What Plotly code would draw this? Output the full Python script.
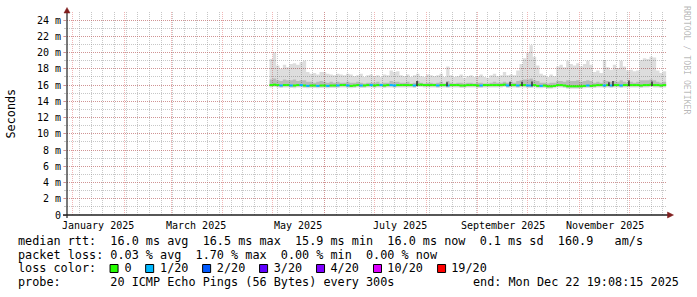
import plotly.graph_objects as go
import pandas as pd

# ---------------- data ----------------
x_start = "2024-12-28 12:00"
x_end = "2025-12-23 12:00"
step_start = "2025-04-29"
step_days = 2

ping_max = [
    19.2, 20.0, 18.4, 18.0, 18.5, 18.2, 18.6, 18.7, 18.5, 18.8,
    19.0, 17.6, 17.4, 17.5, 17.3, 17.6, 17.6, 17.4, 17.3, 17.2,
    17.4, 17.3, 17.2, 17.4, 17.3, 17.1, 17.2, 17.4, 17.0, 17.2,
    17.3, 17.1, 17.2, 17.0, 17.3, 17.2, 17.8, 17.6, 17.7, 17.2,
    17.1, 17.3, 17.0, 17.2, 17.4, 17.1, 17.0, 17.3, 17.2, 17.1,
    17.2, 17.4, 17.0, 18.3, 17.2, 17.0, 17.1, 17.3, 16.9, 17.1,
    17.2, 17.0, 17.1, 17.3, 17.0, 16.9, 17.2, 17.4, 17.1, 17.2,
    17.6, 17.2, 17.3, 17.2, 17.8, 18.6, 19.3, 20.0, 20.9, 19.5,
    18.4, 17.4, 17.2, 17.0, 17.3, 17.1, 18.3, 18.5, 18.2, 19.0,
    18.6, 18.4, 18.7, 18.3, 18.6, 19.0, 18.5, 17.6, 17.8, 17.5,
    19.1, 18.2, 17.9, 18.5, 18.1, 19.0, 18.3, 17.8, 17.9, 17.7,
    17.8, 19.1, 19.3, 19.2, 19.5, 19.4, 17.8, 17.5, 17.7,
]
ping_q3 = [
    16.7, 16.8, 16.6, 16.5, 16.7, 16.6, 16.6, 16.7, 16.5, 16.6,
    16.6, 16.4, 16.4, 16.3, 16.4, 16.5, 16.4, 16.3, 16.4, 16.3,
    16.4, 16.3, 16.3, 16.4, 16.3, 16.3, 16.4, 16.3, 16.2, 16.3,
    16.3, 16.3, 16.4, 16.2, 16.3, 16.3, 16.5, 16.4, 16.4, 16.3,
    16.3, 16.4, 16.2, 16.3, 16.5, 16.3, 16.2, 16.3, 16.3, 16.2,
    16.3, 16.4, 16.2, 16.5, 16.3, 16.2, 16.3, 16.3, 16.2, 16.3,
    16.3, 16.2, 16.3, 16.3, 16.2, 16.2, 16.3, 16.4, 16.3, 16.3,
    16.4, 16.3, 16.4, 16.3, 16.5, 16.6, 16.7, 16.7, 16.8, 16.6,
    16.5, 16.3, 16.3, 16.2, 16.3, 16.3, 16.5, 16.5, 16.4, 16.6,
    16.5, 16.5, 16.6, 16.4, 16.5, 16.6, 16.5, 16.3, 16.4, 16.3,
    16.6, 16.5, 16.4, 16.5, 16.4, 16.6, 16.4, 16.3, 16.4, 16.3,
    16.4, 16.6, 16.6, 16.6, 16.7, 16.6, 16.4, 16.3, 16.4,
]
median_rtt = [
    16.0, 16.05, 16.0, 15.95, 16.0, 16.0, 15.95, 15.95, 16.0, 16.0,
    15.95, 15.9, 15.95, 15.95, 15.9, 15.95, 15.95, 15.9, 15.95, 15.95,
    15.95, 16.0, 16.0, 15.95, 15.9, 15.95, 16.0, 15.95, 15.95, 16.0,
    16.0, 15.95, 16.0, 16.0, 15.95, 16.0, 16.0, 15.95, 16.0, 16.0,
    16.0, 16.0, 16.0, 15.95, 16.05, 16.05, 16.0, 16.0, 16.0, 16.0,
    15.95, 16.0, 16.0, 15.95, 16.0, 16.0, 16.0, 15.95, 15.95, 16.0,
    16.0, 16.0, 15.95, 15.95, 16.0, 16.0, 16.0, 16.0, 16.0, 16.0,
    16.05, 15.95, 16.0, 16.0, 15.95, 16.0, 16.0, 15.95, 15.95, 16.0,
    15.9, 15.9, 15.95, 15.85, 15.85, 15.9, 16.0, 16.0, 15.95, 15.85,
    15.85, 15.85, 15.85, 15.85, 15.9, 15.95, 15.9, 15.95, 16.0, 16.0,
    15.95, 16.0, 15.95, 16.0, 16.0, 15.95, 16.0, 16.0, 16.0, 16.0,
    16.0, 15.95, 16.0, 16.0, 16.05, 16.0, 16.0, 15.95, 16.0,
]
ping_q1 = [
    15.85, 15.9, 15.85, 15.8, 15.85, 15.85, 15.8, 15.8, 15.85, 15.85,
    15.8, 15.75, 15.8, 15.8, 15.75, 15.8, 15.8, 15.75, 15.8, 15.8,
    15.8, 15.85, 15.85, 15.8, 15.75, 15.8, 15.85, 15.8, 15.8, 15.85,
    15.85, 15.8, 15.85, 15.85, 15.8, 15.85, 15.85, 15.8, 15.85, 15.85,
    15.85, 15.85, 15.85, 15.8, 15.9, 15.9, 15.85, 15.85, 15.85, 15.85,
    15.8, 15.85, 15.85, 15.8, 15.85, 15.85, 15.85, 15.8, 15.8, 15.85,
    15.85, 15.85, 15.8, 15.8, 15.85, 15.85, 15.85, 15.85, 15.85, 15.85,
    15.9, 15.8, 15.85, 15.85, 15.8, 15.85, 15.85, 15.8, 15.8, 15.85,
    15.75, 15.75, 15.8, 15.7, 15.7, 15.75, 15.85, 15.85, 15.8, 15.7,
    15.7, 15.7, 15.7, 15.7, 15.75, 15.8, 15.75, 15.8, 15.85, 15.85,
    15.8, 15.85, 15.8, 15.85, 15.85, 15.8, 15.85, 15.85, 15.85, 15.85,
    15.85, 15.8, 15.85, 15.85, 15.9, 15.85, 15.85, 15.8, 15.85,
]
ping_min = [
    15.7, 15.75, 15.7, 15.65, 15.7, 15.7, 15.65, 15.6, 15.7, 15.7,
    15.65, 15.6, 15.65, 15.65, 15.6, 15.65, 15.65, 15.6, 15.65, 15.65,
    15.65, 15.7, 15.7, 15.65, 15.6, 15.65, 15.7, 15.65, 15.65, 15.7,
    15.7, 15.65, 15.7, 15.7, 15.65, 15.7, 15.7, 15.65, 15.7, 15.7,
    15.7, 15.7, 15.7, 15.65, 15.75, 15.75, 15.7, 15.7, 15.7, 15.7,
    15.65, 15.7, 15.7, 15.65, 15.7, 15.7, 15.7, 15.65, 15.65, 15.7,
    15.7, 15.7, 15.65, 15.65, 15.7, 15.7, 15.7, 15.7, 15.7, 15.7,
    15.75, 15.65, 15.7, 15.7, 15.65, 15.7, 15.7, 15.65, 15.65, 15.7,
    15.6, 15.6, 15.65, 15.55, 15.55, 15.6, 15.7, 15.7, 15.65, 15.55,
    15.55, 15.55, 15.55, 15.55, 15.6, 15.65, 15.6, 15.65, 15.7, 15.7,
    15.65, 15.7, 15.65, 15.7, 15.7, 15.65, 15.7, 15.7, 15.7, 15.7,
    15.7, 15.65, 15.7, 15.7, 15.75, 15.7, 15.7, 15.65, 15.7,
]
loss_twentieths = [
    0, 0, 0, 1, 0, 0, 1, 0, 0, 1,
    0, 1, 0, 0, 1, 0, 0, 1, 0, 0,
    1, 0, 0, 1, 0, 0, 0, 1, 0, 0,
    1, 0, 0, 1, 0, 0, 1, 1, 0, 0,
    0, 0, 0, 1, 0, 0, 0, 0, 0, 0,
    1, 0, 0, 1, 0, 0, 0, 0, 0, 0,
    0, 0, 0, 1, 0, 0, 0, 0, 0, 0,
    0, 1, 0, 0, 1, 0, 0, 1, 1, 0,
    0, 1, 0, 0, 0, 0, 0, 0, 0, 0,
    0, 0, 0, 0, 0, 1, 0, 0, 0, 0,
    1, 0, 1, 0, 0, 1, 0, 0, 0, 0,
    0, 0, 0, 0, 0, 0, 0, 0, 0,
]
# short dark marks where the inner pings spread widely
spike_dates = ["2025-07-26 12:00", "2025-08-13 12:00", "2025-09-20 08:00",
               "2025-09-27 12:00", "2025-10-03 12:00", "2025-11-18 16:00",
               "2025-11-21 02:00", "2025-11-30 16:00", "2025-12-14 12:00"]
spike_lo = [15.9, 15.85, 15.9, 15.9, 15.85, 15.9, 15.85, 15.9, 15.9]
spike_hi = [16.5, 16.35, 16.4, 16.4, 16.45, 16.35, 16.5, 16.55, 16.45]

label_dates = ["2025-01-16", "2025-03-16", "2025-05-16",
               "2025-07-16", "2025-09-16", "2025-11-16"]
label_texts = ["January 2025", "March 2025", "May 2025",
               "July 2025", "September 2025", "November 2025"]
y_ticks = [0, 2, 4, 6, 8, 10, 12, 14, 16, 18, 20, 22, 24]
y_ticktext = ["0", "2 m", "4 m", "6 m", "8 m", "10 m", "12 m", "14 m",
              "16 m", "18 m", "20 m", "22 m", "24 m"]
loss_levels = ["0", "1/20", "2/20", "3/20", "4/20", "10/20", "19/20"]
loss_values = [0, 1, 2, 3, 4, 10, 19]
loss_colors = ["#26ff00", "#00b8ff", "#0059ff", "#5e00ff", "#7e00ff", "#dd00ff", "#ff0000"]

stat_rtt = "median rtt:  16.0 ms avg  16.5 ms max  15.9 ms min  16.0 ms now  0.1 ms sd  160.9   am/s"
stat_loss = "packet loss: 0.03 % avg  1.70 % max  0.00 % min  0.00 % now"
probe_text = "probe:       20 ICMP Echo Pings (56 Bytes) every 300s"
end_text = "end: Mon Dec 22 19:08:15 2025"
y_title = "Seconds"
watermark = "RRDTOOL / TOBI OETIKER"

# ---------------- layout constants (pixels) ----------------
W, H = 697, 297
PL, PR, PT, PB = 67, 667, 12, 215
MONO = "DejaVu Sans Mono"
FS = 11.8
CW = 7.12
LX = 16


def px(x):
    return (x - PL) / (PR - PL)


def py(y):
    return (PB - y) / (PB - PT)


GRID = "rgba(143,143,143,0.5)"
MGRID = "rgba(222,79,79,0.42)"
AXIS = "#1f1f1f"
ARROW = "#801f1f"

n = len(median_rtt)
t = pd.date_range(step_start, periods=n + 1, freq=f"{step_days}D")


def ext(v):
    return list(v) + [v[-1]]


fig = go.Figure()

# smoke: outer band (min..max)
fig.add_trace(go.Scatter(x=t, y=ext(ping_min), mode="lines", line=dict(width=0, shape="hv"),
                         hoverinfo="skip", showlegend=False))
fig.add_trace(go.Scatter(x=t, y=ext(ping_max), mode="lines", line=dict(width=0, shape="hv"),
                         fill="tonexty", fillcolor="rgba(0,0,0,0.135)",
                         hoverinfo="skip", showlegend=False))
# inner band
fig.add_trace(go.Scatter(x=t, y=ext(ping_q1), mode="lines", line=dict(width=0, shape="hv"),
                         hoverinfo="skip", showlegend=False))
fig.add_trace(go.Scatter(x=t, y=ext(ping_q3), mode="lines", line=dict(width=0, shape="hv"),
                         fill="tonexty", fillcolor="rgba(0,0,0,0.16)",
                         hoverinfo="skip", showlegend=False))

# median line, coloured by loss
color_of = dict(zip(loss_values, loss_colors))
segs = {}
for i, m in enumerate(median_rtt):
    c = color_of[loss_twentieths[i]]
    xs, ys = segs.setdefault(c, ([], []))
    if i > 0 and median_rtt[i - 1] != m:
        xs += [t[i], t[i], None]
        ys += [median_rtt[i - 1], m, None]
    xs += [t[i], t[i + 1], None]
    ys += [m, m, None]
for c, (xs, ys) in segs.items():
    fig.add_trace(go.Scatter(x=xs, y=ys, mode="lines", line=dict(color=c, width=2),
                             hoverinfo="skip", showlegend=False))

# dark spread marks
sx, sy = [], []
for d, lo, hi in zip(spike_dates, spike_lo, spike_hi):
    sx += [d, d, None]
    sy += [lo, hi, None]
fig.add_trace(go.Scatter(x=sx, y=sy, mode="lines", line=dict(color="#333333", width=1.5),
                         hoverinfo="skip", showlegend=False))

month_starts = pd.date_range("2025-01-01", "2025-12-01", freq="MS")

fig.update_xaxes(type="date", range=[x_start, x_end], showline=False, zeroline=False,
                 tickmode="array", tickvals=month_starts, ticktext=[""] * len(month_starts),
                 showticklabels=False, ticks="",
                 showgrid=True, gridcolor=MGRID, griddash="1px,1px", gridwidth=1,
                 minor=dict(tick0="2024-12-29", dtick=7 * 86400000, showgrid=True,
                            gridcolor=GRID, griddash="1px,1px", gridwidth=1, ticks=""),
                 automargin=False, fixedrange=True)
fig.update_yaxes(range=[0, 25], showline=False, zeroline=False,
                 tickmode="array", tickvals=y_ticks, ticktext=y_ticktext,
                 tickfont=dict(family=MONO, size=10, color="#000000"),
                 ticks="outside", ticklen=3, tickcolor=MGRID, tickwidth=1,
                 showgrid=True, gridcolor=MGRID, griddash="1px,1px", gridwidth=1,
                 minor=dict(dtick=1, showgrid=True, gridcolor=GRID, griddash="1px,1px",
                            gridwidth=1, ticks="outside", ticklen=2, tickcolor=GRID),
                 automargin=False, fixedrange=True)

shapes = []
# axes
shapes.append(dict(type="line", xref="paper", yref="paper", x0=px(63), x1=px(669),
                   y0=0, y1=0, line=dict(color=AXIS, width=1.6), layer="above"))
shapes.append(dict(type="line", xref="paper", yref="paper", x0=0, x1=0,
                   y0=py(218), y1=py(11), line=dict(color=AXIS, width=1.2), layer="above"))
# arrows
shapes.append(dict(type="path", xref="paper", yref="paper",
                   path=f"M {px(64)} {py(13)} L {px(70)} {py(13)} L {px(67)} {py(7.5)} Z",
                   fillcolor=ARROW, line=dict(color=ARROW, width=0.5), layer="above"))
shapes.append(dict(type="path", xref="paper", yref="paper",
                   path=f"M {px(667.5)} {py(212)} L {px(667.5)} {py(218)} L {px(673.5)} {py(215)} Z",
                   fillcolor=ARROW, line=dict(color=ARROW, width=0.5), layer="above"))

annotations = []
for d, txt in zip(label_dates, label_texts):
    annotations.append(dict(x=d, xref="x", y=py(225), yref="paper", text=txt,
                            showarrow=False, xanchor="center", yanchor="middle",
                            font=dict(family=MONO, size=10, color="#000000")))

annotations.append(dict(x=px(10), y=py(113.5), xref="paper", yref="paper", text=y_title,
                        textangle=-90, showarrow=False, xanchor="center", yanchor="middle",
                        font=dict(family=MONO, size=FS, color="#000000")))
annotations.append(dict(x=px(687), y=py(60), xref="paper", yref="paper", text=watermark,
                        textangle=90, showarrow=False, xanchor="center", yanchor="middle",
                        font=dict(family=MONO, size=8.2, color="rgba(0,0,0,0.3)")))


def nb(s):
    return s.replace(" ", "\u00a0")


# loss colour line with box placeholders
line3 = "loss color:  "
box_pos = []
for lvl in loss_levels:
    box_pos.append(len(line3))
    line3 += "  " + lvl + "  "
line3 = line3.rstrip()

rows = [(stat_rtt, 241), (stat_loss, 254.7), (line3, 268.3), (probe_text, 282)]
for txt, yc in rows:
    annotations.append(dict(x=px(LX), y=py(yc), xref="paper", yref="paper", text=nb(txt),
                            showarrow=False, xanchor="left", yanchor="middle",
                            font=dict(family=MONO, size=FS, color="#000000")))
annotations.append(dict(x=px(681), y=py(282), xref="paper", yref="paper", text=nb(end_text),
                        showarrow=False, xanchor="right", yanchor="middle",
                        font=dict(family=MONO, size=FS, color="#000000")))

for c, col in zip(box_pos, loss_colors):
    x0 = LX + c * CW + 1.5
    shapes.append(dict(type="rect", xref="paper", yref="paper",
                       x0=px(x0), x1=px(x0 + 8), y0=py(272.5), y1=py(264.5),
                       fillcolor=col, line=dict(color="#000000", width=1), layer="above"))

fig.update_layout(width=W, height=H, margin=dict(l=PL, r=W - PR, t=PT, b=H - PB, pad=0),
                  paper_bgcolor="#ffffff", plot_bgcolor="#ffffff", template="none",
                  showlegend=False, shapes=shapes, annotations=annotations)

fig.write_html("out.html", config={"displayModeBar": False})
